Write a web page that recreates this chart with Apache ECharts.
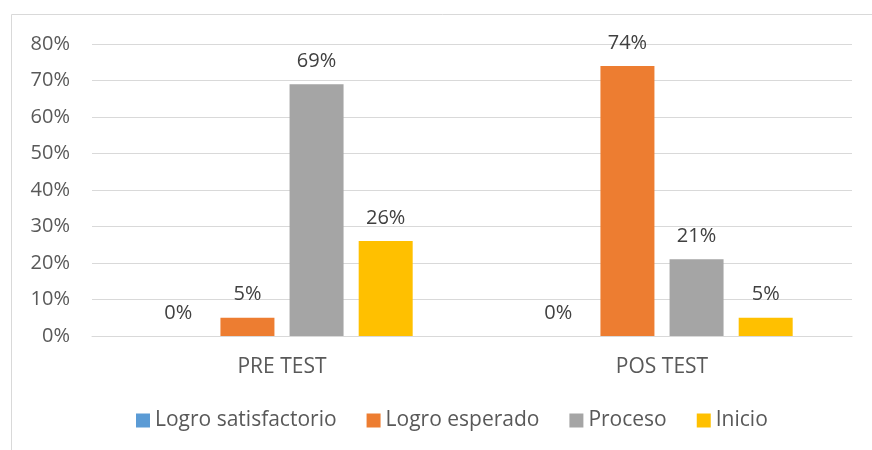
<!DOCTYPE html>
<html>
<head>
    <meta charset="utf-8">
    <title>Pre test / Pos test</title>
    <script src="https://cdn.jsdelivr.net/npm/echarts@6/dist/echarts.min.js"></script>
    <style>
        html, body { margin: 0; padding: 0; background: #fff; }
        #chart { width: 872px; height: 450px; }
    </style>
</head>
<body>
<div id="chart"></div>
<script type="text/javascript">
    // datos
    var categorias = ['PRE TEST', 'POS TEST'];
    var logroSatisfactorio = [0, 0];
    var logroEsperado = [5, 74];
    var proceso = [69, 21];
    var inicio = [26, 5];

    var colores = ['#5B9BD5', '#ED7D31', '#A5A5A5', '#FFC000'];
    var fuente = 'Open Sans';
    var texto = '#595959';

    function serie(nombre, datos, color) {
        return {
            name: nombre,
            type: 'bar',
            data: datos,
            barWidth: 54,
            barGap: '28%',
            itemStyle: { color: color },
            label: {
                show: true,
                position: 'top',
                distance: 13,
                formatter: '{c}%',
                color: '#404040',
                fontFamily: fuente,
                fontSize: 20
            }
        };
    }

    var myChart = echarts.init(document.getElementById('chart'));
    myChart.setOption({
        animation: false,
        textStyle: { fontFamily: fuente },
        graphic: [{
            type: 'rect',
            shape: { x: 11.5, y: 14.5, width: 880, height: 460 },
            style: { fill: 'none', stroke: '#D9D9D9', lineWidth: 1 },
            silent: true
        }],
        grid: { left: 92, right: 20, top: 44, bottom: 114 },
        legend: {
            bottom: 14,
            left: 131,
            itemWidth: 14,
            itemHeight: 14,
            itemGap: 30,
            icon: 'rect',
            textStyle: { color: texto, fontFamily: fuente, fontSize: 21 },
            data: ['Logro satisfactorio', 'Logro esperado', 'Proceso', 'Inicio']
        },
        xAxis: {
            type: 'category',
            data: categorias,
            axisLine: { lineStyle: { color: '#D9D9D9', width: 1 } },
            axisTick: { show: false },
            axisLabel: { color: texto, fontFamily: fuente, fontSize: 21, margin: 21 }
        },
        yAxis: {
            type: 'value',
            min: 0,
            max: 80,
            interval: 10,
            axisLine: { show: false },
            axisTick: { show: false },
            splitLine: { lineStyle: { color: '#D9D9D9', width: 1 } },
            axisLabel: { color: texto, fontFamily: fuente, fontSize: 20, margin: 22, formatter: '{value}%' }
        },
        series: [
            serie('Logro satisfactorio', logroSatisfactorio, colores[0]),
            serie('Logro esperado', logroEsperado, colores[1]),
            serie('Proceso', proceso, colores[2]),
            serie('Inicio', inicio, colores[3])
        ]
    });
</script>
</body>
</html>
